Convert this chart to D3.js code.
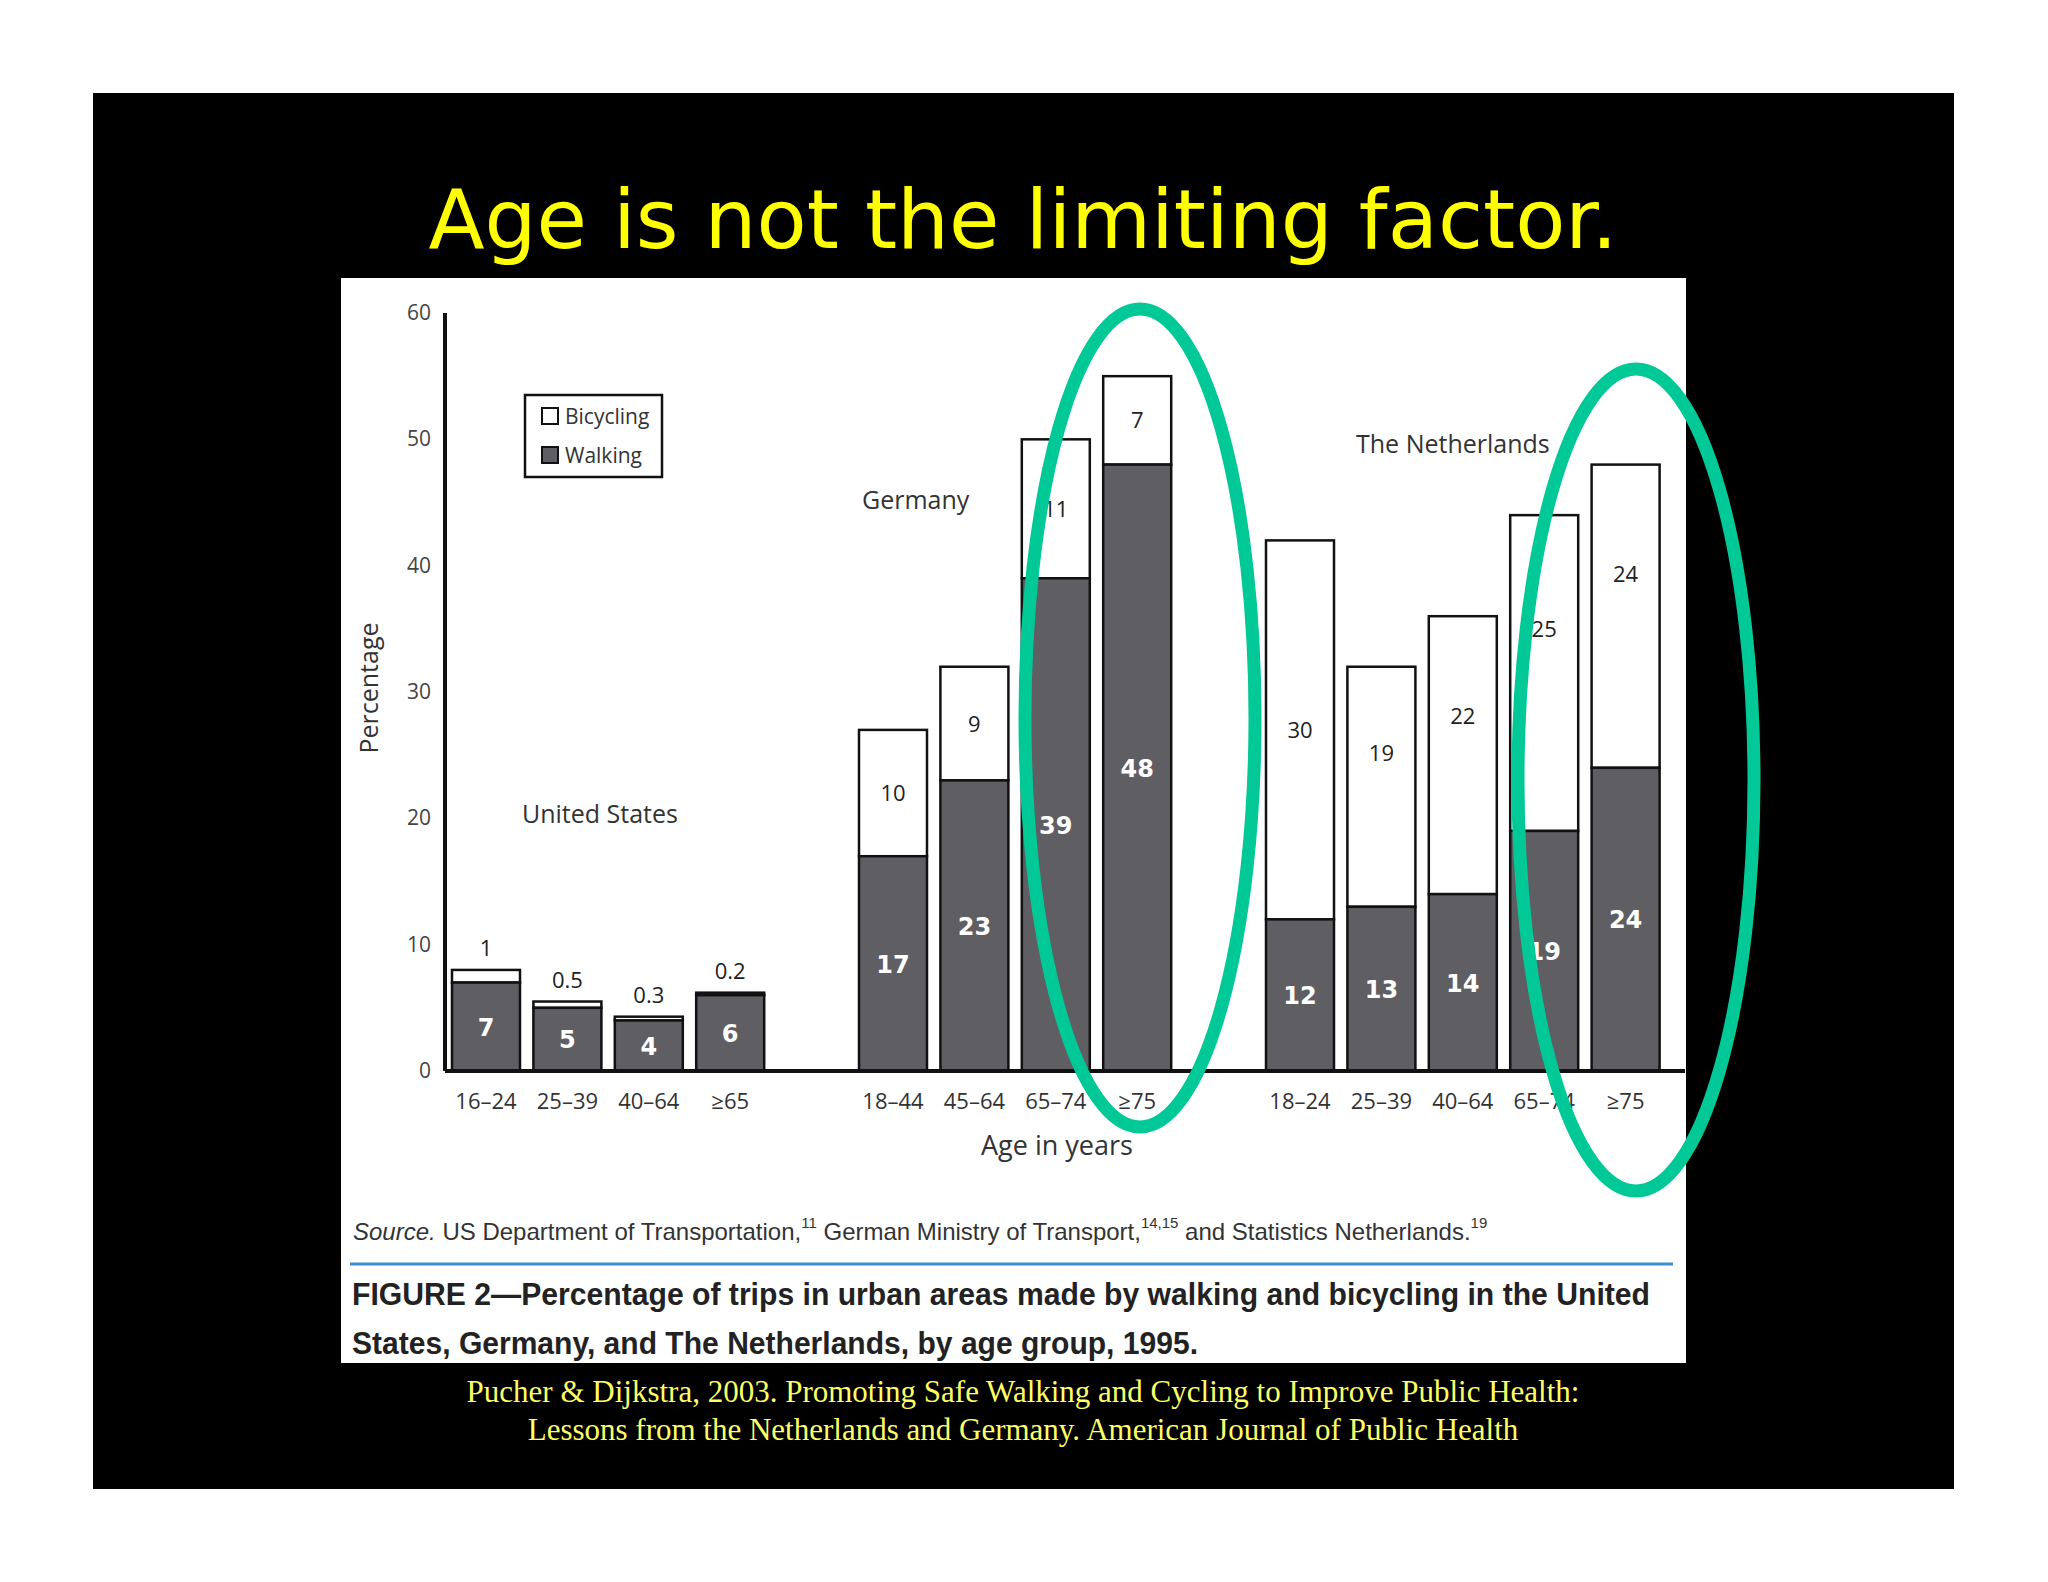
<!DOCTYPE html>
<html><head><meta charset="utf-8">
<script src="https://cdn.jsdelivr.net/npm/d3@7"></script>
<style>body{margin:0;background:#fff}</style></head>
<body><svg id="c" width="2048" height="1582"></svg>
<script>
const categories=["16–24","25–39","40–64","≥65","18–44","45–64","65–74","≥75","18–24","25–39","40–64","65–74","≥75"];
const slots=[0,1,2,3,5,6,7,8,10,11,12,13,14];
const walking=[7,5,4,6,17,23,39,48,12,13,14,19,24];
const bicycling=[1,0.5,0.3,0.2,10,9,11,7,30,19,22,25,24];
const bikeLabels=["1","0.5","0.3","0.2","10","9","11","7","30","19","22","25","24"];
const yTicks=[0,10,20,30,40,50,60];

const svg=d3.select("#c");
svg.append("rect").attr("x",93).attr("y",93).attr("width",1861).attr("height",1396).attr("fill","#000");
svg.append("text").attr("x",1023).attr("y",248).attr("text-anchor","middle").attr("fill","#ffff00")
 .attr("font-family","DejaVu Sans").attr("font-size",82).text("Age is not the limiting factor.");
svg.append("rect").attr("x",341).attr("y",278).attr("width",1345).attr("height",1085).attr("fill","#fff");

const y=d3.scaleLinear().domain([0,60]).range([1071,313]);
const x=d3.scaleLinear().domain([0,1]).range([452,533.4]);
const bw=68;
const g=svg.append("g");
const data=categories.map((c,i)=>({c,s:slots[i],w:walking[i],b:bicycling[i],bl:bikeLabels[i]}));
g.selectAll(".bk").data(data).join("rect").attr("x",d=>x(d.s)).attr("y",d=>y(d.w+d.b))
 .attr("width",bw).attr("height",d=>y(d.w)-y(d.w+d.b)).attr("fill","#fff").attr("stroke","#111").attr("stroke-width",2.5);
g.selectAll(".wk").data(data).join("rect").attr("x",d=>x(d.s)).attr("y",d=>y(d.w))
 .attr("width",bw).attr("height",d=>y(0)-y(d.w)).attr("fill","#5f5e63").attr("stroke","#111").attr("stroke-width",2.5);
g.selectAll(".wl").data(data).join("text").attr("x",d=>x(d.s)+bw/2).attr("y",d=>y(d.w/2)+9)
 .attr("text-anchor","middle").attr("fill","#fff").attr("font-weight","bold").attr("font-family","DejaVu Sans")
 .attr("font-size",24).text(d=>d.w);
g.selectAll(".bl").data(data).join("text").attr("x",d=>x(d.s)+bw/2)
 .attr("y",d=>d.b<2?y(d.w+d.b)-14:(d.s>=11?y(d.w+d.b*0.64):y(d.w+d.b/2))+8)
 .attr("text-anchor","middle").attr("fill","#222").attr("font-family","Open Sans").attr("font-size",22).text(d=>d.bl);
svg.append("line").attr("x1",445).attr("x2",445).attr("y1",y(60)).attr("y2",y(0)).attr("stroke","#111").attr("stroke-width",4);
svg.append("line").attr("x1",445).attr("x2",1685).attr("y1",y(0)).attr("y2",y(0)).attr("stroke","#111").attr("stroke-width",4);
svg.selectAll(".yt").data(yTicks).join("text").attr("x",431).attr("y",d=>y(d)+7).attr("text-anchor","end")
 .attr("font-family","Open Sans").attr("font-size",21).attr("fill","#444").text(d=>d);
svg.selectAll(".xt").data(data).join("text").attr("x",d=>x(d.s)+bw/2).attr("y",1109).attr("text-anchor","middle")
 .attr("font-family","Open Sans").attr("font-size",22).attr("fill","#333").text(d=>d.c);
svg.append("text").attr("transform","translate(378,688) rotate(-90)").attr("text-anchor","middle")
 .attr("font-family","Open Sans").attr("font-size",25).attr("fill","#333").text("Percentage");
svg.append("text").attr("x",1057).attr("y",1155).attr("text-anchor","middle")
 .attr("font-family","Open Sans").attr("font-size",27).attr("fill","#333").text("Age in years");
const t=(x0,y0,s)=>svg.append("text").attr("x",x0).attr("y",y0).attr("font-family","Open Sans").attr("font-size",25).attr("fill","#333").text(s);
t(522,823,"United States");t(862,509,"Germany");t(1356,453,"The Netherlands");
svg.append("rect").attr("x",525).attr("y",395).attr("width",137).attr("height",82).attr("fill","#fff").attr("stroke","#111").attr("stroke-width",2.5);
svg.append("rect").attr("x",542).attr("y",408).attr("width",16).attr("height",16).attr("fill","#fff").attr("stroke","#111").attr("stroke-width",2);
svg.append("rect").attr("x",542).attr("y",447).attr("width",16).attr("height",16).attr("fill","#5f5e63").attr("stroke","#111").attr("stroke-width",2);
svg.append("text").attr("x",565).attr("y",424).attr("font-family","Open Sans").attr("font-size",21).attr("fill","#333").text("Bicycling");
svg.append("text").attr("x",565).attr("y",463).attr("font-family","Open Sans").attr("font-size",21).attr("fill","#333").text("Walking");
const src=svg.append("text").attr("x",353).attr("y",1240).attr("font-family","Liberation Sans Narrow, Liberation Sans").attr("font-size",24).attr("fill","#333");
src.append("tspan").attr("font-style","italic").text("Source. ");
src.append("tspan").text("US Department of Transportation,");
src.append("tspan").attr("font-size",15).attr("dy",-12).text("11");
src.append("tspan").attr("dy",12).text(" German Ministry of Transport,");
src.append("tspan").attr("font-size",15).attr("dy",-12).text("14,15");
src.append("tspan").attr("dy",12).text(" and Statistics Netherlands.");
src.append("tspan").attr("font-size",15).attr("dy",-12).text("19");
svg.append("line").attr("x1",350).attr("x2",1673).attr("y1",1264).attr("y2",1264).attr("stroke","#3b8fd0").attr("stroke-width",3);
svg.append("text").attr("x",352).attr("y",1305).attr("font-family","Liberation Sans Narrow, Liberation Sans").attr("font-weight","bold").attr("font-size",32).attr("fill","#222").attr("textLength",1298).attr("lengthAdjust","spacingAndGlyphs")
 .text("FIGURE 2—Percentage of trips in urban areas made by walking and bicycling in the United");
svg.append("text").attr("x",352).attr("y",1354).attr("font-family","Liberation Sans Narrow, Liberation Sans").attr("font-weight","bold").attr("font-size",32).attr("fill","#222").attr("textLength",846).attr("lengthAdjust","spacingAndGlyphs")
 .text("States, Germany, and The Netherlands, by age group, 1995.");
svg.append("text").attr("x",1023).attr("y",1402).attr("text-anchor","middle").attr("font-family","Liberation Serif").attr("font-size",31).attr("fill","#ffff66")
 .text("Pucher & Dijkstra, 2003. Promoting Safe Walking and Cycling to Improve Public Health:");
svg.append("text").attr("x",1023).attr("y",1440).attr("text-anchor","middle").attr("font-family","Liberation Serif").attr("font-size",31).attr("fill","#ffff66")
 .text("Lessons from the Netherlands and Germany. American Journal of Public Health");
svg.append("ellipse").attr("cx",1140).attr("cy",718).attr("rx",115).attr("ry",409).attr("fill","none").attr("stroke","#00c896").attr("stroke-width",13);
svg.append("ellipse").attr("cx",1636).attr("cy",780).attr("rx",118).attr("ry",411).attr("fill","none").attr("stroke","#00c896").attr("stroke-width",13);
</script></body></html>
